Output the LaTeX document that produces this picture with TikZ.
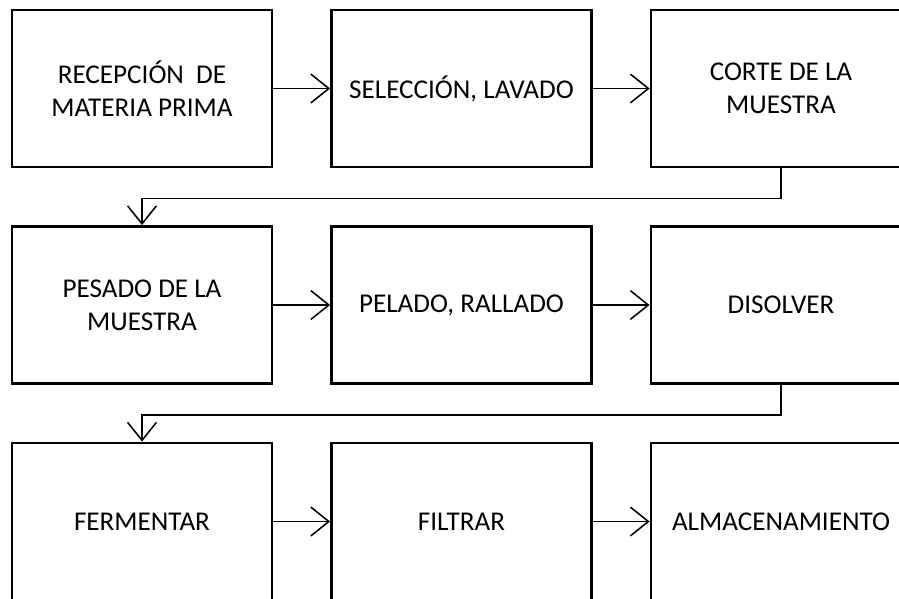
\documentclass[tikz,border=0pt]{standalone}
\usepackage{fontspec}
\setmainfont{Carlito}
\usetikzlibrary{positioning}
\usetikzlibrary{arrows.meta}

\begin{document}
\begin{tikzpicture}[
	node distance=5.4125cm and 7.9875cm, on grid,
	proc/.style={draw, line width=2pt, minimum width=6.5cm, minimum height=3.925cm,
		align=center, font=\fontsize{19.3}{23.4}\selectfont},
	flow/.style={line width=1.1pt, -{Straight Barb[length=4.5mm, width=7.2mm, line width=1.1pt]}}
	]
	\useasboundingbox (0,0) rectangle (22.475,-14.975);
	% first row
	\node[proc] (recep) at (3.55,-2.2125) {RECEPCIÓN~ DE\\MATERIA PRIMA};
	\node[proc, right=of recep] (selec) {SELECCIÓN, LAVADO};
	\node[proc, right=of selec] (corte) {CORTE DE LA\\MUESTRA};
	% second row
	\node[proc, below=of recep] (pesado) {PESADO DE LA\\MUESTRA};
	\node[proc, right=of pesado] (pelado) {PELADO, RALLADO};
	\node[proc, right=of pelado] (disol) {DISOLVER};
	% third row
	\node[proc, below=of pesado] (ferm) {FERMENTAR};
	\node[proc, right=of ferm] (filt) {FILTRAR};
	\node[proc, right=of filt] (alma) {ALMACENAMIENTO};
	% connectors
	\draw[flow] (recep) -- (selec);
	\draw[flow] (selec) -- (corte);
	\draw[flow] (corte.south) -- ++(0,-0.75) -| (pesado.north);
	\draw[flow] (pesado) -- (pelado);
	\draw[flow] (pelado) -- (disol);
	\draw[flow] (disol.south) -- ++(0,-0.75) -| (ferm.north);
	\draw[flow] (ferm) -- (filt);
	\draw[flow] (filt) -- (alma);
\end{tikzpicture}
\end{document}
